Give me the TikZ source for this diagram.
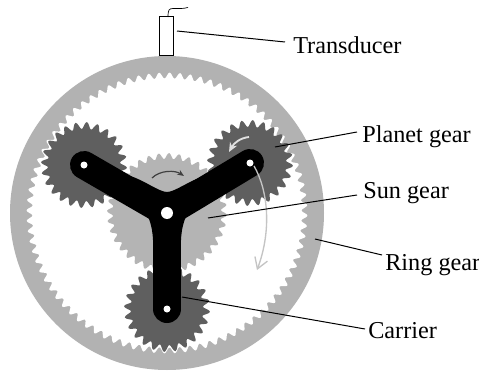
\documentclass[tikz,border=0pt]{standalone}
\usepackage{fontspec}
\setmainfont{Liberation Serif}
\usetikzlibrary{arrows.meta}
\definecolor{ringgray}{HTML}{B2B2B2}
\definecolor{sungray}{HTML}{B4B4B4}
\definecolor{planetgray}{HTML}{5F5F5F}
\definecolor{swinggray}{HTML}{C4C4C4}
\newcommand{\toothed}[7]{% cx cy mean amp teeth phase fill
  \fill[#7] plot[domain=0:#5,samples=\numexpr 8*#5+1\relax,variable=\t]
   ({#1+(#3+#4*sin(360*(\t-floor(\t))+#6))*cos(\t/#5*360)},{#2+(#3+#4*sin(360*(\t-floor(\t))+#6))*sin(\t/#5*360)}) -- cycle;}
\tikzset{
  lbl/.style={font=\fontsize{18.2}{20}\selectfont,inner sep=0pt,anchor=base west},
  leader/.style={draw=black,line width=0.75pt},
  arm/.style={line width=21pt,line cap=round,black}
}
\begin{document}
\begin{tikzpicture}[x=0.75pt,y=-0.75pt]
\useasboundingbox[fill=white] (0,0) rectangle (479,371);
% ring
\fill[ringgray] (167,213) circle[radius=157];
\toothed{167}{213}{137.5}{3}{84}{0}{white}
% sun
\toothed{167}{213}{57}{3}{36}{20}{sungray}
% planets
\toothed{84}{165}{39.5}{3.5}{24}{0}{planetgray}
\toothed{250}{163}{39.5}{3.5}{24}{0}{planetgray}
\toothed{167}{309}{39.5}{3.5}{24}{0}{planetgray}
% carrier
\fill[black] (167,192) .. controls (175,192) and (190,180) .. (205,176)
  -- (195,200) .. controls (188,212) and (182,220) .. (181,240)
  -- (153,240) .. controls (152,220) and (146,212) .. (139,200)
  -- (130,176) .. controls (144,180) and (159,192) .. (167,192) -- cycle;
\draw[arm] (167,213) -- (84,165);
\draw[arm] (167,213) -- (250,163);
\draw[arm] (167,213) -- (167,309);
\fill[white] (167,213) circle[radius=6];
\fill[white] (84,165) circle[radius=3.5];
\fill[white] (250,163) circle[radius=3.5];
\fill[white] (167,309) circle[radius=3.5];
% motion arrows
\coordinate (sunA) at (152,178);
\coordinate (sunB) at (184,176);
\draw[black!75,line width=0.9pt,-{Stealth[length=5pt,width=4pt]}] (sunA) .. controls (160,170) and (175,170) .. (sunB);
\coordinate (planA) at (249,137);
\coordinate (planB) at (229,152);
\draw[white!88!black,line width=1.4pt,-{Stealth[length=7pt,width=6pt]}] (planA) .. controls (240,138) and (234,143) .. (planB);
\coordinate (swingA) at (254,166);
\coordinate (swingB) at (257,270);
\draw[swinggray,line width=1pt,-{Straight Barb[length=8pt,width=10pt]}] (swingA) .. controls (268,190) and (272,230) .. (swingB);
% transducer
\node[draw=black,fill=white,line width=0.7pt,minimum width=10.6pt,minimum height=29pt,inner sep=0pt,anchor=south] (tr) at (166.5,56) {};
\coordinate (cableEnd) at (188,7.5);
\draw[black,line width=0.5pt] (168,17) .. controls (168,10) and (169,8.5) .. (173,8.5) .. controls (178,8.5) and (182,9) .. (cableEnd);
% labels
\node[lbl] (ltrans) at (293,53) {Transducer};
\node[lbl] (lplanet) at (362,142) {Planet gear};
\node[lbl] (lsun) at (363,198) {Sun gear};
\node[lbl] (lring) at (385,270) {Ring gear};
\node[lbl] (lcarr) at (368,338) {Carrier};
% leaders
\coordinate (pTrans) at (177,31);
\coordinate (pPlanet) at (275,147);
\coordinate (pSun) at (208,218);
\coordinate (pRing) at (315,239);
\coordinate (pCarr) at (182,297);
\coordinate (eTrans) at (285,42);
\coordinate (ePlanet) at (357,132);
\coordinate (eSun) at (357,195);
\coordinate (eRing) at (382,255);
\coordinate (eCarr) at (365,329);
\draw[leader] (pTrans) -- (eTrans);
\draw[leader] (pPlanet) -- (ePlanet);
\draw[leader] (pSun) -- (eSun);
\draw[leader] (pRing) -- (eRing);
\draw[leader] (pCarr) -- (eCarr);
\end{tikzpicture}
\end{document}
